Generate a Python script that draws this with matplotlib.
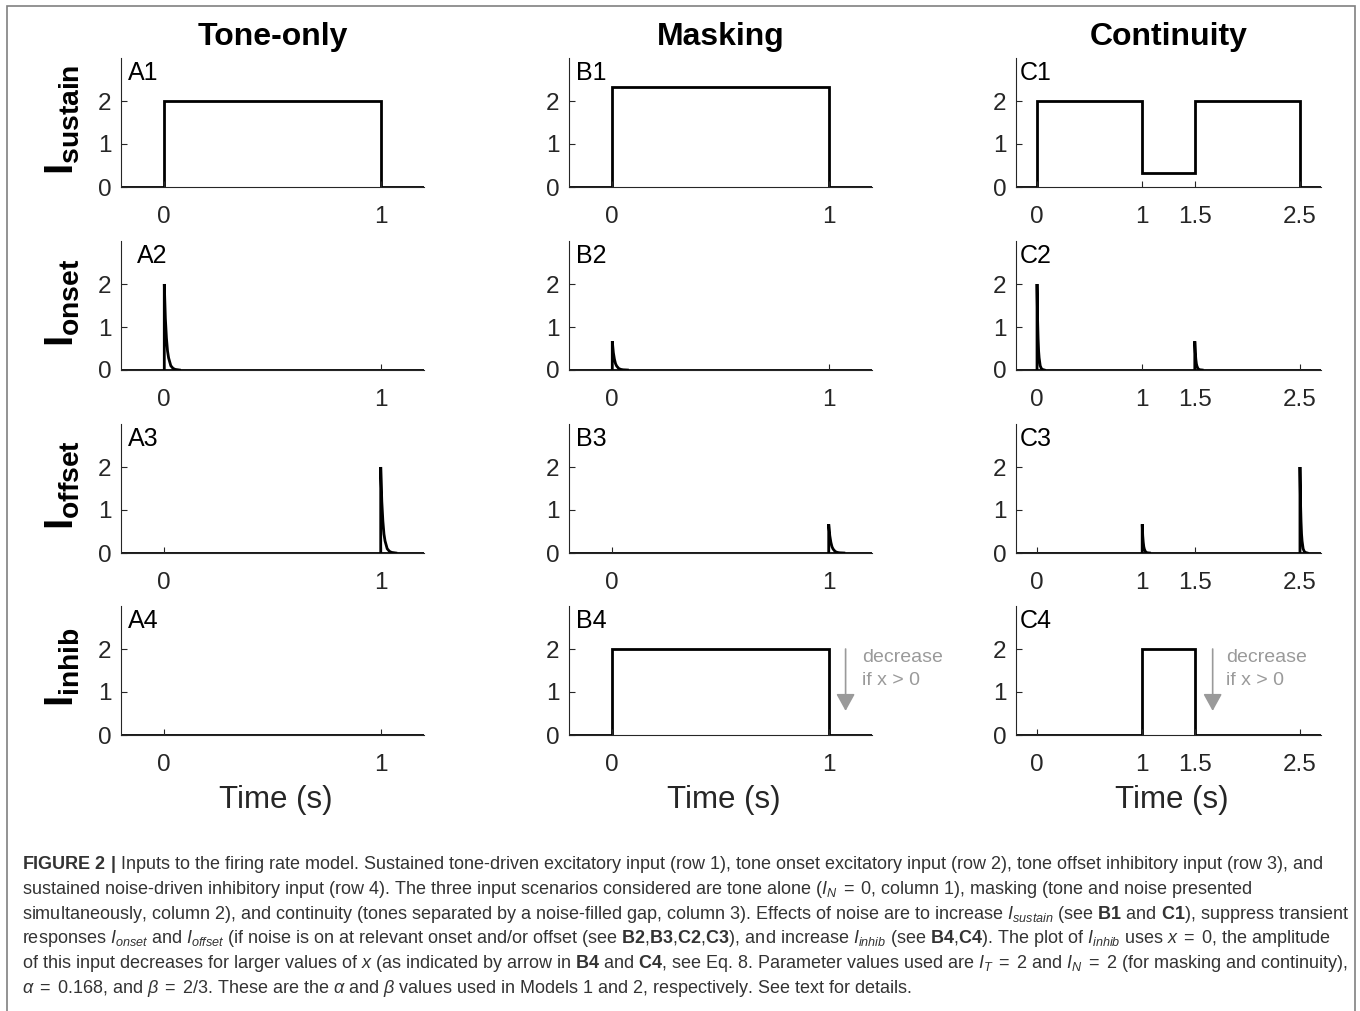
"""Inputs to the firing rate model (tone-only / masking / continuity)."""
import matplotlib
matplotlib.use("Agg")
import matplotlib.pyplot as plt
from matplotlib.patches import Rectangle

plt.rcParams["font.family"] = ["Liberation Sans", "DejaVu Sans"]
plt.rcParams["mathtext.fontset"] = "custom"
plt.rcParams["mathtext.bf"] = "Liberation Sans:bold"
plt.rcParams["mathtext.rm"] = "Liberation Sans"
plt.rcParams["mathtext.it"] = "Liberation Sans:italic"

# ---- data -------------------------------------------------------------
col_titles = ["Tone-only", "Masking", "Continuity"]
row_labels = [r"$\mathbf{I}_{\mathbf{sustain}}$", r"$\mathbf{I}_{\mathbf{onset}}$",
              r"$\mathbf{I}_{\mathbf{offset}}$", r"$\mathbf{I}_{\mathbf{inhib}}$"]
col_xlim = [(-0.2, 1.2), (-0.2, 1.2), (-0.2, 2.7)]
col_xticks = [[0, 1], [0, 1], [0, 1, 1.5, 2.5]]
col_xticklabels = [["0", "1"], ["0", "1"], ["0", "1", "1.5", "2.5"]]

# sustained inputs (rows 1 and 4): step edges and levels
sustain_edges = [[-0.2, 0, 1, 1.2], [-0.2, 0, 1, 1.2], [-0.2, 0, 1, 1.5, 2.5, 2.7]]
sustain_levels = [[0, 2, 0], [0, 2.33, 0], [0, 2, 0.33, 2, 0]]
inhib_edges = [[-0.2, 1.2], [-0.2, 0, 1, 1.2], [-0.2, 1, 1.5, 2.7]]
inhib_levels = [[0], [0, 2, 0], [0, 2, 0]]

# transient inputs (rows 2 and 3): event times and peak amplitudes
onset_times = [[0], [0], [0, 1.5]]
onset_peaks = [[2], [0.67], [2, 0.67]]
offset_times = [[1], [1], [1, 2.5]]
offset_peaks = [[2], [0.67], [0.67, 2]]
# shape of a transient after its event (s, fraction of peak)
kernel_t = [0, 0.005, 0.01, 0.015, 0.02, 0.03, 0.04, 0.05, 0.07]
kernel_v = [1, 0.6, 0.37, 0.22, 0.14, 0.05, 0.02, 0.007, 0]

panel_names = [["A1", "A2", "A3", "A4"], ["B1", "B2", "B3", "B4"], ["C1", "C2", "C3", "C4"]]

caption = [
    r"$\mathbf{FIGURE\ 2\ |}$ Inputs to the firing rate model. Sustained tone-driven excitatory input (row 1), tone onset excitatory input (row 2), tone offset inhibitory input (row 3), and",
    r"sustained noise-driven inhibitory input (row 4). The three input scenarios considered are tone alone ($I_N\;=\;0$, column 1), masking (tone and noise presented",
    r"simultaneously, column 2), and continuity (tones separated by a noise-filled gap, column 3). Effects of noise are to increase $I_{sustain}$ (see $\mathbf{B1}$ and $\mathbf{C1}$), suppress transient",
    r"responses $I_{onset}$ and $I_{offset}$ (if noise is on at relevant onset and/or offset (see $\mathbf{B2}$,$\mathbf{B3}$,$\mathbf{C2}$,$\mathbf{C3}$), and increase $I_{inhib}$ (see $\mathbf{B4}$,$\mathbf{C4}$). The plot of $I_{inhib}$ uses $x\;=\;0$, the amplitude",
    r"of this input decreases for larger values of $x$ (as indicated by arrow in $\mathbf{B4}$ and $\mathbf{C4}$, see Eq. 8. Parameter values used are $I_T\;=\;2$ and $I_N\;=\;2$ (for masking and continuity),",
    r"$\alpha\;=\;0.168$, and $\beta\;=\;2/3$. These are the $\alpha$ and $\beta$ values used in Models 1 and 2, respectively. See text for details.",
]

# ---- layout (pixels) --------------------------------------------------
W, H = 1360, 1011
col_left = [121, 569, 1016]
col_w = [303, 303, 305]
row_top = [58, 241, 424, 606]
row_h = 129
axis_col = "#262626"
arrow_col = "#9a9a9a"

fig = plt.figure(figsize=(W / 100, H / 100), dpi=100)


def draw_transients(ax, times, peaks, xlim):
    ax.stairs([0], list(xlim), baseline=None, color="black", lw=2)
    for t0, a in zip(times, peaks):
        xs = [t0] + [t0 + k for k in kernel_t]
        ys = [0] + [a * v for v in kernel_v]
        ax.plot(xs, ys, color="black", lw=2, solid_joinstyle="miter")


for c in range(3):
    for r in range(4):
        l, t = col_left[c], row_top[r]
        ax = fig.add_axes([l / W, 1 - (t + row_h) / H, col_w[c] / W, row_h / H])
        if r == 0:
            ax.stairs(sustain_levels[c], sustain_edges[c], baseline=None, color="black", lw=2)
        elif r == 1:
            draw_transients(ax, onset_times[c], onset_peaks[c], col_xlim[c])
        elif r == 2:
            draw_transients(ax, offset_times[c], offset_peaks[c], col_xlim[c])
        else:
            ax.stairs(inhib_levels[c], inhib_edges[c], baseline=None, color="black", lw=2)

        ax.set_xlim(*col_xlim[c])
        ax.set_ylim(0, 3)
        ax.set_yticks([0, 1, 2])
        ax.set_xticks(col_xticks[c])
        ax.set_xticklabels(col_xticklabels[c])
        for s in ["top", "right"]:
            ax.spines[s].set_visible(False)
        for s in ["left", "bottom"]:
            ax.spines[s].set_color(axis_col)
            ax.spines[s].set_linewidth(0.8)
        ax.spines["bottom"].set_zorder(0)
        ax.tick_params(direction="in", length=4, width=0.8, color=axis_col,
                       labelcolor=axis_col, labelsize=17.5)
        ax.tick_params(axis="x", pad=14)
        ax.tick_params(axis="y", pad=7)
        ax.patch.set_visible(False)

        dx = 16 if (c == 0 and r == 1) else (4 if c == 2 else 7)
        ax.annotate(panel_names[c][r], xy=(0, 1), xycoords="axes fraction",
                    xytext=(dx * 0.72, -2), textcoords="offset points",
                    ha="left", va="top", fontsize=18, color="black")

        if r == 3 and c > 0:
            ax_x = [1.078, 1.67][c - 1]
            tx_x = [1.156, 1.80][c - 1]
            ax.annotate("", xy=(ax_x, 0.56), xytext=(ax_x, 2.0),
                        arrowprops=dict(arrowstyle="-|>,head_length=0.4,head_width=0.22",
                                        color=arrow_col, lw=1.2, mutation_scale=26,
                                        shrinkA=0, shrinkB=0))
            ax.text(tx_x, 2.0, "decrease\nif x > 0", ha="left", va="top",
                    fontsize=14, color=arrow_col, linespacing=1.45)

        if r == 3:
            fig.text((l + col_w[c] / 2 + 3) / W, 1 - 800 / H, "Time (s)",
                     ha="center", va="center", fontsize=22.5, color=axis_col)

    fig.text((col_left[c] + col_w[c] / 2) / W, 1 - 37 / H, col_titles[c],
             ha="center", va="center", fontsize=23, fontweight="bold")

for r in range(4):
    fig.text(63 / W, 1 - (row_top[r] + row_h / 2 - 3) / H, row_labels[r],
             rotation=90, ha="center", va="center", fontsize=29, color="black")

# caption
for i, line in enumerate(caption):
    fig.text(22 / W, 1 - (869 + i * 24.8) / H, line, ha="left", va="baseline",
             fontsize=13.0, color="#333333")

# outer frame
fig.patches.append(Rectangle((7 / W, -0.01), 1348 / W, 1 - 6 / H + 0.01,
                             transform=fig.transFigure, fill=False,
                             edgecolor="#808080", lw=1.2))

fig.savefig("out.png", dpi=100)
print("Saved: out.png")
